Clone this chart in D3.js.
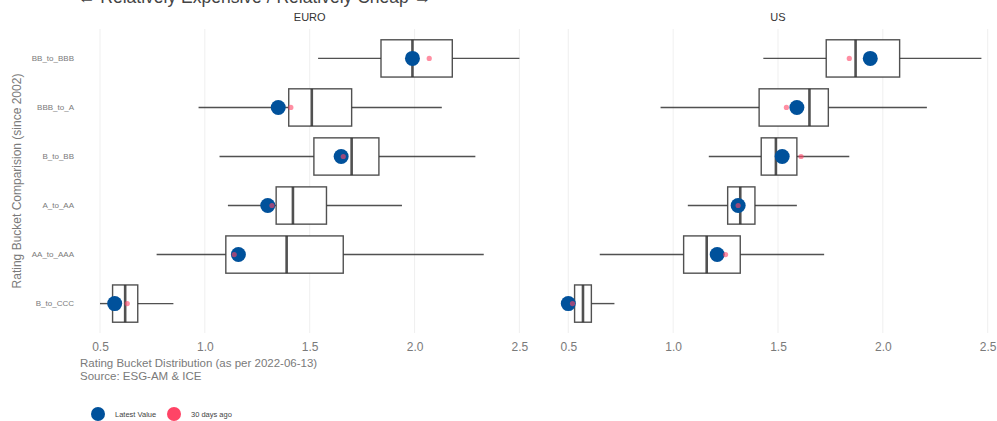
<!DOCTYPE html>
<html>
<head>
<meta charset="utf-8">
<script src="https://cdn.jsdelivr.net/npm/d3@7"></script>
<style>
  body { margin: 0; background: #fff; }
  svg { display: block; font-family: "Liberation Sans", Arial, sans-serif; }
</style>
</head>
<body>
<svg id="chart" width="997" height="421"></svg>
<script>
// rating buckets, top to bottom
const categories = ["BB_to_BBB", "BBB_to_A", "B_to_BB", "A_to_AA", "AA_to_AAA", "B_to_CCC"];
const regions = ["EURO", "US"];

// [lower whisker, q1, median, q3, upper whisker] per bucket
const euroBox = [
  [1.54, 1.84, 1.99, 2.18, 2.50],
  [0.97, 1.40, 1.51, 1.70, 2.13],
  [1.07, 1.52, 1.70, 1.83, 2.29],
  [1.11, 1.34, 1.42, 1.58, 1.94],
  [0.77, 1.10, 1.39, 1.66, 2.33],
  [0.50, 0.56, 0.62, 0.68, 0.85]
];
const usBox = [
  [1.43, 1.73, 1.87, 2.08, 2.47],
  [0.94, 1.41, 1.65, 1.74, 2.21],
  [1.17, 1.42, 1.49, 1.59, 1.84],
  [1.07, 1.26, 1.32, 1.39, 1.59],
  [0.65, 1.05, 1.16, 1.32, 1.72],
  [0.50, 0.53, 0.57, 0.61, 0.72]
];
const euroLatest = [1.99, 1.35, 1.65, 1.30, 1.16, 0.57];
const euroPrev   = [2.07, 1.41, 1.66, 1.32, 1.14, 0.63];
const usLatest   = [1.94, 1.59, 1.52, 1.31, 1.21, 0.50];
const usPrev     = [1.84, 1.54, 1.61, 1.31, 1.25, 0.52];

const xTicks = [0.5, 1.0, 1.5, 2.0, 2.5];
const legendLabels = ["Latest Value", "30 days ago"];

const blue = "#00519b";
const red = "#ff4466";
const grey = "#7a7a7a";

const svg = d3.select("#chart");

// title, cut off by the top edge as in the original
svg.append("text")
  .attr("x", 78).attr("y", 3)
  .attr("font-size", 17.5).attr("fill", "#444")
  .text("\u2190 Relatively Expensive / Relatively Cheap \u2192");

const y = d3.scaleBand().domain(categories).range([29, 333]).paddingOuter(0.1).paddingInner(0);
const boxH = y.bandwidth() * 0.76;
const cy = c => y(c) + y.bandwidth() / 2;

const panels = [
  {name: regions[0], box: euroBox, latest: euroLatest, prev: euroPrev, range: [100, 519.4]},
  {name: regions[1], box: usBox, latest: usLatest, prev: usPrev, range: [568.3, 987.7]}
];

panels.forEach(p => {
  const x = d3.scaleLinear().domain([0.5, 2.5]).range(p.range);
  const g = svg.append("g");

  // grid
  g.selectAll("line.grid").data(xTicks).join("line")
    .attr("x1", d => x(d)).attr("x2", d => x(d))
    .attr("y1", 29).attr("y2", 333)
    .attr("stroke", "#ebebeb").attr("stroke-width", 0.8);

  // strip
  g.append("text")
    .attr("x", (p.range[0] + p.range[1]) / 2).attr("y", 21)
    .attr("text-anchor", "middle").attr("font-size", 11).attr("fill", "#333")
    .text(p.name);

  // x axis
  const ax = g.append("g").attr("transform", "translate(0,333)")
    .call(d3.axisBottom(x).tickValues(xTicks).tickFormat(d3.format(".1f")).tickSize(0).tickPadding(9));
  ax.select(".domain").remove();
  ax.selectAll("text").attr("font-size", 12).attr("fill", grey)
    .attr("font-family", "Liberation Sans, Arial, sans-serif");

  const rows = categories.map((c, i) => ({c, s: p.box[i], l: p.latest[i], r: p.prev[i]}));
  const box = g.selectAll("g.box").data(rows).join("g")
    .attr("stroke", "#333").attr("stroke-opacity", 0.85).attr("fill", "none");

  box.append("line")
    .attr("x1", d => x(d.s[0])).attr("x2", d => x(d.s[1]))
    .attr("y1", d => cy(d.c)).attr("y2", d => cy(d.c)).attr("stroke-width", 1.4);
  box.append("line")
    .attr("x1", d => x(d.s[3])).attr("x2", d => x(d.s[4]))
    .attr("y1", d => cy(d.c)).attr("y2", d => cy(d.c)).attr("stroke-width", 1.4);
  box.append("rect")
    .attr("x", d => x(d.s[1])).attr("width", d => x(d.s[3]) - x(d.s[1]))
    .attr("y", d => cy(d.c) - boxH / 2).attr("height", boxH)
    .attr("fill", "#fff").attr("stroke-width", 1.4);
  box.append("line")
    .attr("x1", d => x(d.s[2])).attr("x2", d => x(d.s[2]))
    .attr("y1", d => cy(d.c) - boxH / 2).attr("y2", d => cy(d.c) + boxH / 2)
    .attr("stroke-width", 2.6);

  g.selectAll("circle.latest").data(rows).join("circle")
    .attr("cx", d => x(d.l)).attr("cy", d => cy(d.c)).attr("r", 7.5)
    .attr("fill", blue);
  g.selectAll("circle.prev").data(rows).join("circle")
    .attr("cx", d => x(d.r)).attr("cy", d => cy(d.c)).attr("r", 2.6)
    .attr("fill", red).attr("fill-opacity", 0.6);
});

// y axis labels
const ya = svg.append("g").attr("transform", "translate(74,0)")
  .call(d3.axisLeft(y).tickSize(0).tickPadding(0));
ya.select(".domain").remove();
ya.selectAll("text").attr("font-size", 8).attr("fill", grey)
  .attr("font-family", "Liberation Sans, Arial, sans-serif");

svg.append("text")
  .attr("transform", "translate(21,181) rotate(-90)")
  .attr("text-anchor", "middle").attr("font-size", 12).attr("fill", grey)
  .text("Rating Bucket Comparision  (since 2002)");

// caption
svg.append("text").attr("x", 80).attr("y", 367).attr("font-size", 11.5).attr("fill", grey)
  .text("Rating Bucket Distribution (as per 2022-06-13)");
svg.append("text").attr("x", 80).attr("y", 380).attr("font-size", 11.5).attr("fill", grey)
  .text("Source: ESG-AM & ICE");

// legend
const legend = svg.append("g");
const lx = [98, 174];
legendLabels.forEach((t, i) => {
  legend.append("circle").attr("cx", lx[i]).attr("cy", 414).attr("r", 7)
    .attr("fill", i === 0 ? blue : red);
  legend.append("text").attr("x", lx[i] + 17).attr("y", 417)
    .attr("font-size", 7.5).attr("fill", "#444").text(t);
});
</script>
</body>
</html>
